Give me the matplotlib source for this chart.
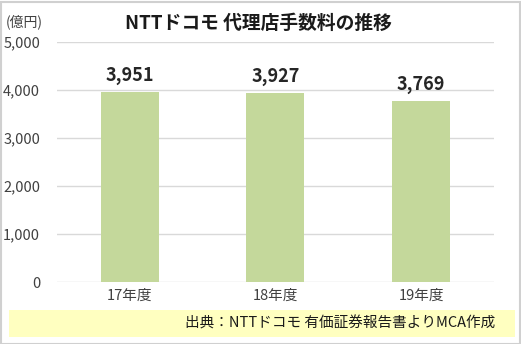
import matplotlib.pyplot as plt
from matplotlib.patches import Rectangle

plt.rcParams['font.family'] = ['Noto Sans CJK JP', 'DejaVu Sans']

years = ["17年度", "18年度", "19年度"]
fees = [3951, 3927, 3769]
yticks = [0, 1000, 2000, 3000, 4000, 5000]

fig = plt.figure(figsize=(5.21, 3.44), dpi=100)
ax = fig.add_axes([0.109, 0.180, 0.839, 0.698])

x = range(len(years))
ax.bar(x, fees, width=0.4, color="#C4D89B", zorder=2)
for i, v in zip(x, fees):
    ax.text(i, v + 150, f"{v:,}", ha="center", va="bottom", fontsize=13,
            fontweight="semibold", color="#262626")

ax.set_xlim(-0.5, 2.5)
ax.set_ylim(0, 5000)
ax.set_yticks(yticks)
ax.set_yticklabels([f"{t:,}" for t in yticks])
ax.set_xticks(list(x))
ax.set_xticklabels(years)
ax.grid(axis="y", color="#D9D9D9", lw=1, zorder=0)
for s in ax.spines.values():
    s.set_visible(False)
ax.tick_params(length=0, labelsize=10.5, colors="#404040", pad=5)
ax.tick_params(axis="y", pad=12)

fig.text(0.497, 0.933, "NTTドコモ 代理店手数料の推移", ha="center", va="center",
         fontsize=13.5, fontweight="semibold", color="#1a1a1a")
fig.text(6 / 521, 0.936, "(億円)", ha="left", va="center", fontsize=10, color="#404040")

# source box
fig.patches.append(Rectangle((9 / 521, 7 / 344), 506 / 521, 27 / 344,
                             transform=fig.transFigure, facecolor="#FFFFC0",
                             edgecolor="none", zorder=0))
fig.text(495 / 521, 21 / 344, "出典：NTTドコモ 有価証券報告書よりMCA作成", ha="right",
         va="center", fontsize=10.5, color="#1a1a1a")

fig.patches.append(Rectangle((0.5 / 521, 0.5 / 344), 519 / 521, 342 / 344,
                             transform=fig.transFigure, facecolor="none",
                             edgecolor="#D0D0D0", lw=1.5))

fig.savefig("out.png", dpi=100)
